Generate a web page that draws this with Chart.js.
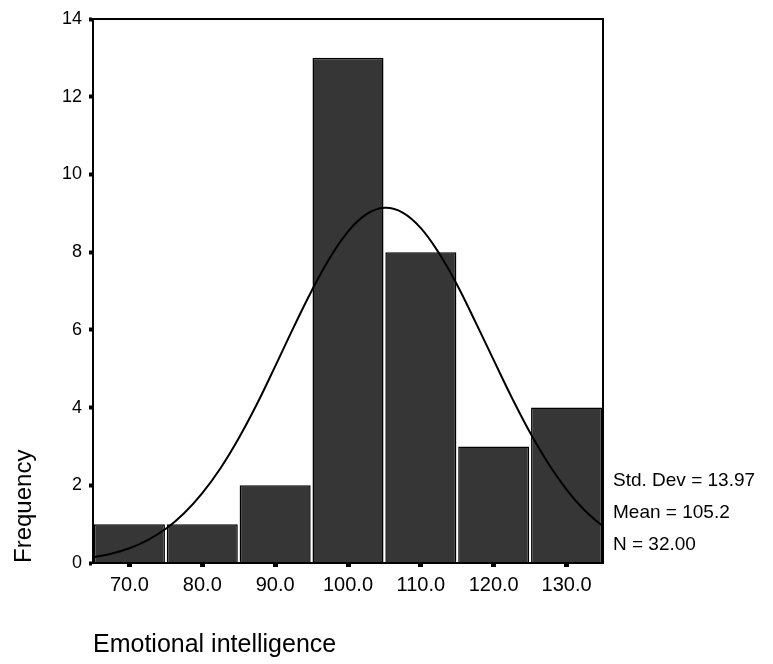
<!DOCTYPE html>
<html>
<head>
<meta charset="utf-8">
<script src="https://cdn.jsdelivr.net/npm/chart.js@4/dist/chart.umd.min.js"></script>
<style>
  html, body { margin: 0; padding: 0; background: #fff; }
  #wrap { width: 773px; height: 664px; }
</style>
</head>
<body>
<div id="wrap"><canvas id="myChart" width="773" height="664"></canvas></div>
<script>
const binCenters = [70, 80, 90, 100, 110, 120, 130]
const frequencies = [1, 1, 2, 13, 8, 3, 4]

// normal curve
const curveX = [65, 67.5, 70, 72.5, 75, 77.5, 80, 82.5, 85, 87.5, 90, 92.5, 95, 97.5, 100,
  102.5, 105, 107.5, 110, 112.5, 115, 117.5, 120, 122.5, 125, 127.5, 130, 132.5, 135]
const curveY = [0.15, 0.24, 0.38, 0.59, 0.88, 1.28, 1.8, 2.44, 3.21, 4.09, 5.06, 6.05, 7.0, 7.85, 8.53,
  8.97, 9.14, 9.02, 8.62, 7.97, 7.15, 6.2, 5.22, 4.25, 3.35, 2.56, 1.89, 1.35, 0.94]

const xTicks = [70, 80, 90, 100, 110, 120, 130]
const yTicks = [0, 2, 4, 6, 8, 10, 12, 14]
const stats = ['Std. Dev = 13.97', 'Mean = 105.2', 'N = 32.00']

const FONT = 'Liberation Sans, Arial, sans-serif'
Chart.defaults.font.family = FONT
Chart.defaults.color = '#000'

const frame = {
  id: 'frame',
  afterDraw(chart) {
    const { ctx, chartArea: a } = chart
    ctx.save()
    ctx.strokeStyle = '#000'
    ctx.lineWidth = 2
    ctx.strokeRect(a.left, a.top, a.right - a.left, a.bottom - a.top)
    ctx.font = '19px ' + FONT
    ctx.fillStyle = '#000'
    ctx.textBaseline = 'middle'
    stats.forEach((s, i) => ctx.fillText(s, a.right + 10, 481 + i * 32))
    ctx.restore()
  }
}

const ctx = document.getElementById('myChart')

new Chart(ctx, {
  type: 'bar',
  data: {
    datasets: [
      {
        type: 'line',
        data: curveX.map((x, i) => ({ x: x, y: curveY[i] })),
        borderColor: '#000',
        borderWidth: 2,
        pointRadius: 0,
        tension: 0.4,
        fill: false,
        order: 0
      },
      {
        type: 'bar',
        data: binCenters.map((x, i) => ({ x: x, y: frequencies[i] })),
        backgroundColor: '#363636',
        borderColor: '#000',
        borderWidth: 1.5,
        barPercentage: 0.975,
        categoryPercentage: 1,
        order: 1
      }
    ]
  },
  options: {
    responsive: false,
    animation: false,
    layout: { padding: { left: 0, right: 170, top: 19, bottom: 0 } },
    plugins: { legend: { display: false }, tooltip: { enabled: false } },
    scales: {
      x: {
        type: 'linear',
        min: 65,
        max: 135,
        offset: false,
        afterBuildTicks: (s) => { s.ticks = xTicks.map(v => ({ value: v })) },
        afterFit: (s) => { s.height = 101 },
        ticks: { font: { size: 20 }, padding: 6, callback: v => v.toFixed(1) },
        grid: { offset: false, drawOnChartArea: false, tickLength: 4, tickWidth: 5, color: '#000' },
        border: { display: true, color: '#000', width: 2 },
        title: {
          display: true, text: 'Emotional intelligence', align: 'start',
          font: { size: 25 }, padding: { top: 0, bottom: 4 }
        }
      },
      y: {
        min: 0,
        max: 14,
        afterBuildTicks: (s) => { s.ticks = yTicks.map(v => ({ value: v })) },
        afterFit: (s) => { s.width = 93 },
        ticks: { font: { size: 18 }, padding: 7 },
        grid: { drawOnChartArea: false, tickLength: 4, tickWidth: 4, color: '#000' },
        border: { display: true, color: '#000', width: 2 },
        title: {
          display: true, text: 'Frequency', align: 'start',
          font: { size: 24 }, padding: { top: 10, bottom: 0 }
        }
      }
    }
  },
  plugins: [frame]
})
</script>
</body>
</html>
